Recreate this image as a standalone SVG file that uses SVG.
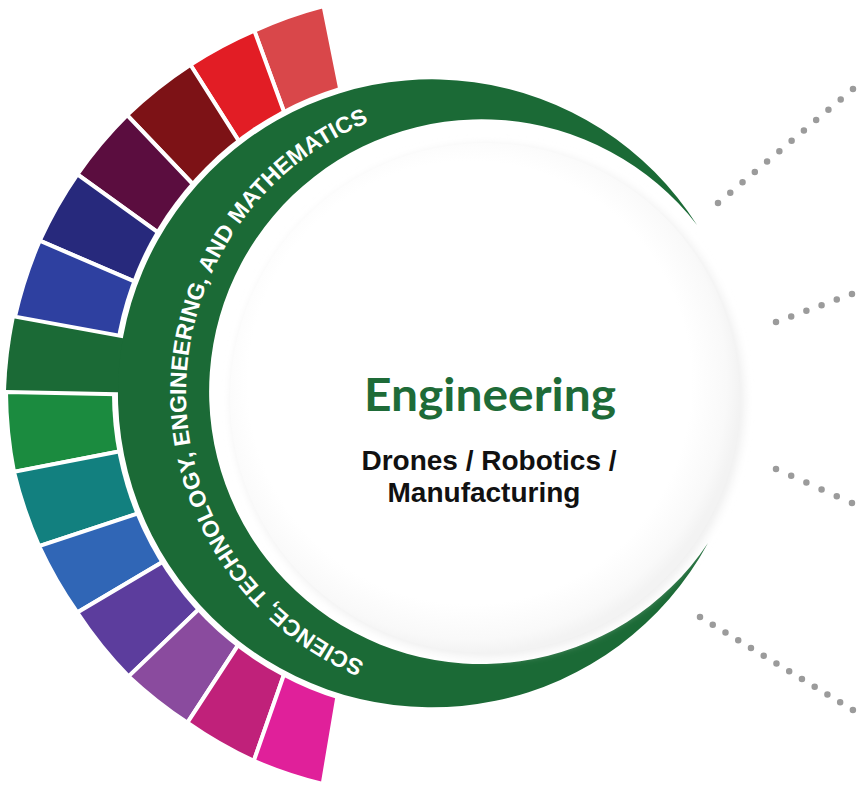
<svg xmlns="http://www.w3.org/2000/svg" width="861" height="785" viewBox="0 0 861 785">
<defs>
<style>
.seg{stroke:#fff;stroke-width:4;stroke-linejoin:miter}
.dots{fill:none;stroke:#9b9b9b;stroke-width:6.5;stroke-linecap:round}
.arc-text{font-family:"Liberation Sans",Arial,sans-serif;font-weight:bold;font-size:23px;fill:#fff;letter-spacing:0.1px}
.title{font-family:Lato,"Open Sans",sans-serif;font-weight:bold;font-size:46px;fill:#1e6b38}
.sub{font-family:"Liberation Sans",Arial,sans-serif;font-weight:bold;font-size:28px;fill:#111}
.green{fill:#1b6a36}
</style>
<radialGradient id="discGrad" cx="0.47" cy="0.47" r="0.53">
<stop offset="0" stop-color="#ffffff"/>
<stop offset="0.82" stop-color="#ffffff"/>
<stop offset="0.95" stop-color="#f9f9f9"/>
<stop offset="1" stop-color="#f3f3f3"/>
</radialGradient>
<filter id="soft" x="-10%" y="-10%" width="120%" height="120%"><feGaussianBlur stdDeviation="5"/></filter>
<path id="textArc" d="M 478 685 A 292 292 0 0 1 478 101 A 292 292 0 0 1 478 685"/>
</defs>
<rect width="861" height="785" fill="#fff"/>

<g id="segments-top">
<path id="seg1" class="seg" fill="#d9474a" d="M 323.6 6 A 430 430 0 0 0 254.3 30.6 L 288.4 123.8 L 342.9 102.6 Z"/>
<path id="seg2" class="seg" fill="#e21d25" d="M 254.3 30.6 A 430 430 0 0 0 190.4 64.8 L 245.7 151.9 L 288.4 123.8 Z"/>
<path id="seg3" class="seg" fill="#7d1216" d="M 190.4 64.8 A 430 430 0 0 0 127.1 115.1 L 201.3 193 L 245.7 151.9 Z"/>
<path id="seg4" class="seg" fill="#5b0d3f" d="M 127.1 115.1 A 430 430 0 0 0 77.4 174.3 L 168.7 240.2 L 201.3 193 Z"/>
<path id="seg5" class="seg" fill="#27297c" d="M 77.4 174.3 A 430 430 0 0 0 39.7 240.7 L 145.9 286.4 L 168.7 240.2 Z"/>
<path id="seg6" class="seg" fill="#2e40a0" d="M 39.7 240.7 A 430 430 0 0 0 15 316.6 L 135.7 338.6 L 145.9 286.4 Z"/>
</g>
<g id="segments-bottom">
<path id="seg7" class="seg" fill="#1b8b3f" d="M 6 392 A 430 430 0 0 0 14 471.9 L 135.6 448.2 L 130 394.4 Z"/>
<path id="seg8" class="seg" fill="#12807f" d="M 14 471.9 A 430 430 0 0 0 39.1 546.1 L 152.5 508.7 L 135.6 448.2 Z"/>
<path id="seg9" class="seg" fill="#3066b6" d="M 39.1 546.1 A 430 430 0 0 0 77.3 612.5 L 172.2 556.3 L 152.5 508.7 Z"/>
<path id="seg10" class="seg" fill="#5c3d9d" d="M 77.3 612.5 A 430 430 0 0 0 128.6 676.4 L 201.9 606.2 L 172.2 556.3 Z"/>
<path id="seg11" class="seg" fill="#8a4b9e" d="M 128.6 676.4 A 430 430 0 0 0 187.4 722.7 L 240.9 640.8 L 201.9 606.2 Z"/>
<path id="seg12" class="seg" fill="#c0217a" d="M 187.4 722.7 A 430 430 0 0 0 253.8 760.9 L 286.6 667.1 L 240.9 640.8 Z"/>
<path id="seg13" class="seg" fill="#e0209a" d="M 253.8 760.9 A 430 430 0 0 0 322.7 784 L 339.3 685.3 L 286.6 667.1 Z"/>
</g>

<circle cx="432" cy="393.4" r="320" fill="#fff"/>

<g id="ring">
<path class="green" d="M 14.6 318.6 A 430 430 0 0 0 6 390 L 130 392.4 L 135.3 340.6 Z"/>
<path class="green" d="M 697 225 A 314 314 0 1 0 708 543 A 272.4 272.4 0 1 1 697 225 Z"/>
<text class="arc-text"><textPath href="#textArc" startOffset="460.7" text-anchor="middle">SCIENCE, TECHNOLOGY, ENGINEERING, AND MATHEMATICS</textPath></text>
</g>

<g id="center-node">
<circle cx="488" cy="401" r="256" fill="#efefef" filter="url(#soft)"/>
<circle cx="485" cy="398" r="255" fill="url(#discGrad)"/>
<text class="title" x="490" y="411" text-anchor="middle" textLength="252" lengthAdjust="spacingAndGlyphs">Engineering</text>
<text class="sub" x="489" y="470" text-anchor="middle">Drones / Robotics /</text>
<text class="sub" x="484" y="502" text-anchor="middle">Manufacturing</text>
</g>

<g id="connectors">
<path class="dots" d="M 718 203 L 853 89" stroke-dasharray="0 16.06"/>
<path class="dots" d="M 776 322 L 852 294" stroke-dasharray="0 16.19"/>
<path class="dots" d="M 776 469 L 852 503" stroke-dasharray="0 16.64"/>
<path class="dots" d="M 700 617 L 853 710" stroke-dasharray="0 14.91"/>
</g>
</svg>
